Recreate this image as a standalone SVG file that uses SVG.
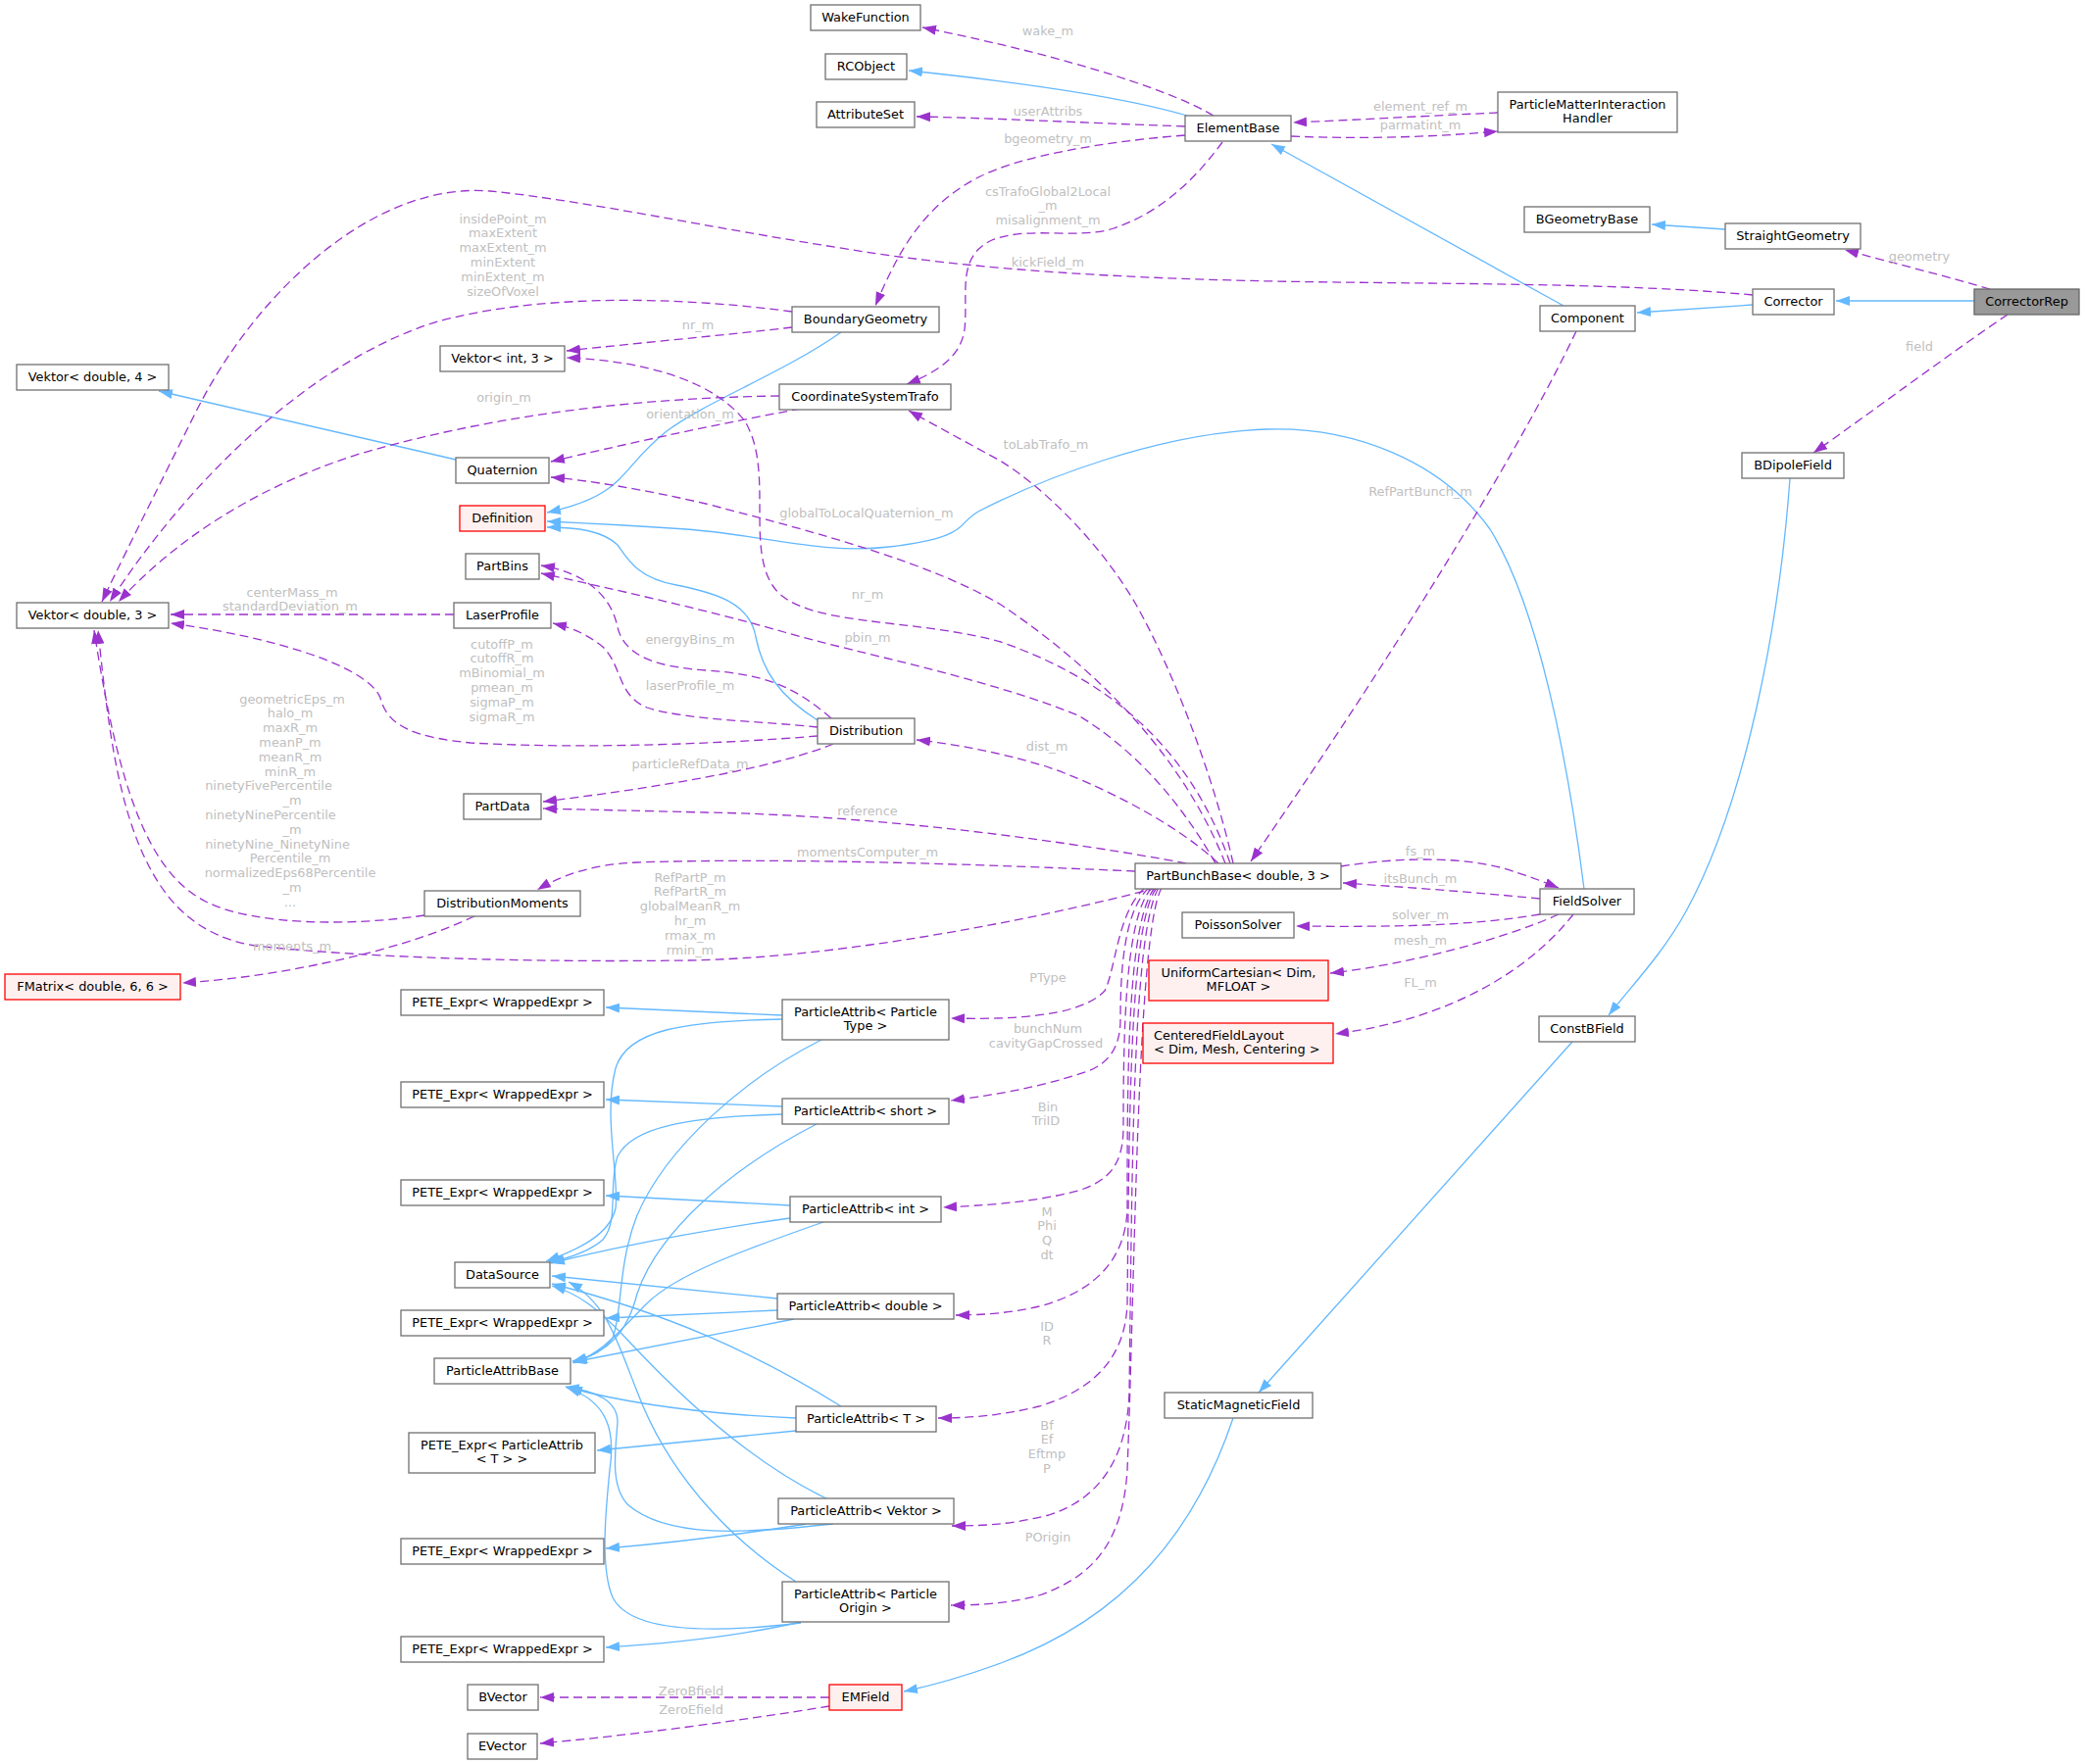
<svg xmlns="http://www.w3.org/2000/svg" width="2127" height="1800" viewBox="0 0 2127 1800">
<defs>
<style>
.n rect{fill:#ffffff;stroke:#707070;stroke-width:1.3}
.r rect{fill:#fff0f0;stroke:#ff0000;stroke-width:1.3}
.g rect{fill:#999999;stroke:#666666;stroke-width:1.3}
.n text,.r text,.g text{font-family:'DejaVu Sans',Verdana,sans-serif;font-size:12.9px;fill:#000000;text-anchor:middle}
.lb{font-family:'DejaVu Sans',Verdana,sans-serif;font-size:12.9px;fill:#c0c0c0;text-anchor:middle}
.u{fill:none;stroke:#9a32cd;stroke-width:1.3;stroke-dasharray:9,5;marker-end:url(#ap)}
.i{fill:none;stroke:#63b8ff;stroke-width:1.3;marker-end:url(#ab)}
</style>
<marker id="ap" viewBox="0 0 14 10" refX="14" refY="5" markerWidth="14" markerHeight="10" markerUnits="userSpaceOnUse" orient="auto"><path d="M0,0 L14,5 L0,10 z" fill="#9a32cd"/></marker>
<marker id="ab" viewBox="0 0 14 10" refX="14" refY="5" markerWidth="14" markerHeight="10" markerUnits="userSpaceOnUse" orient="auto"><path d="M0,0 L14,5 L0,10 z" fill="#63b8ff"/></marker>
</defs>
<rect width="2127" height="1800" fill="#ffffff"/>

<g id="edges">
<!-- inheritance -->
<path class="i" d="M1211,118 C1150,100 1050,85 927,72"/>
<path class="i" d="M1595,312 L1297,147"/>
<path class="i" d="M1788,311 L1670,319"/>
<path class="i" d="M2014,307 L1873,307"/>
<path class="i" d="M1760,234 L1685,229"/>
<path class="i" d="M858,339 C800,380 720,410 680,440 C630,480 640,505 558,523"/>
<path class="i" d="M465,469 L162,399"/>
<path class="i" d="M1616,907 C1600,780 1570,620 1520,540 C1470,470 1380,435 1292,438 C1180,442 1060,490 998,522 C975,535 990,548 907,558 C840,566 780,546 700,540 C640,536 600,534 558,532"/>
<path class="i" d="M834,735 C795,710 778,685 771,650 C765,615 730,605 690,597 C650,590 640,570 630,556 C615,542 590,538 558,538"/>
<path class="i" d="M1826,488 C1815,640 1780,820 1720,930 C1695,975 1665,1005 1641,1036"/>
<path class="i" d="M1604,1063 L1284,1421"/>
<path class="i" d="M1258,1447 C1220,1560 1150,1650 1021,1697 C980,1712 950,1720 922,1726"/>
<!-- ParticleAttrib inheritance -->
<path class="i" d="M798,1036 L618,1028"/>
<path class="i" d="M798,1040 C700,1042 640,1050 628,1090 C615,1140 632,1200 628,1233 C622,1260 590,1275 557,1287"/>
<path class="i" d="M838,1061 C760,1100 680,1170 650,1240 C630,1290 635,1340 625,1365 C615,1380 600,1385 584,1389"/>
<path class="i" d="M798,1129 L618,1122"/>
<path class="i" d="M798,1137 C700,1140 645,1150 630,1180 C620,1210 632,1245 615,1265 C600,1278 580,1284 560,1288"/>
<path class="i" d="M833,1147 C740,1195 670,1260 650,1320 C640,1360 620,1380 585,1390"/>
<path class="i" d="M806,1230 L618,1220"/>
<path class="i" d="M806,1243 C720,1255 630,1272 562,1289"/>
<path class="i" d="M840,1247 C760,1275 690,1300 660,1330 C630,1360 615,1380 585,1391"/>
<path class="i" d="M793,1337 L618,1345"/>
<path class="i" d="M793,1325 L563,1302"/>
<path class="i" d="M810,1346 L584,1390"/>
<path class="i" d="M812,1460 L609,1480"/>
<path class="i" d="M812,1447 C720,1443 640,1432 580,1416"/>
<path class="i" d="M858,1435 C770,1380 680,1340 563,1310"/>
<path class="i" d="M823,1555 C760,1565 700,1573 618,1580"/>
<path class="i" d="M845,1530 C760,1490 680,1410 640,1367 C610,1335 590,1320 563,1312"/>
<path class="i" d="M850,1555 C760,1565 680,1570 640,1535 C622,1515 628,1480 630,1451 C630,1430 610,1420 577,1415"/>
<path class="i" d="M817,1655 C760,1668 700,1676 618,1681"/>
<path class="i" d="M812,1614 C740,1568 680,1500 650,1420 C630,1370 620,1330 580,1308"/>
<path class="i" d="M817,1656 C700,1670 640,1660 625,1630 C612,1600 618,1540 622,1500 C628,1460 620,1430 578,1416"/>

<!-- usage -->
<path class="u" d="M2030,295 C1990,283 1930,268 1882,255"/>
<path class="u" d="M2048,321 C1990,360 1910,420 1850,462"/>
<path class="u" d="M1238,118 C1200,95 1100,60 941,28"/>
<path class="u" d="M1209,129 C1100,125 1000,120 935,119"/>
<path class="u" d="M1209,138 C1120,145 1040,160 1000,180 C940,210 915,260 893,312"/>
<path class="u" d="M1247,145 C1225,175 1190,215 1136,233 C1100,245 1050,230 1012,245 C975,262 988,300 984,336 C980,365 955,380 925,392"/>
<path class="u" d="M1317,139 C1390,142 1460,140 1528,134"/>
<path class="u" d="M1528,115 C1460,118 1390,122 1319,125"/>
<path class="u" d="M1788,301 C1650,288 1450,290 1300,287 C1150,284 1000,276 870,255 C720,232 600,205 500,195 C380,185 260,300 200,420 C150,520 120,580 104,614"/>
<path class="u" d="M808,318 C720,306 560,295 440,330 C320,370 200,480 112,614"/>
<path class="u" d="M808,334 C740,342 650,350 578,358"/>
<path class="u" d="M795,404 C650,406 505,423 367,463 C250,500 170,560 121,614"/>
<path class="u" d="M817,417 C720,435 630,455 562,471"/>
<path class="u" d="M848,733 C810,700 780,688 720,684 C660,680 636,665 630,640 C624,610 600,585 552,577"/>
<path class="u" d="M834,742 C780,736 700,735 660,722 C630,710 635,680 615,660 C600,648 585,641 564,636"/>
<path class="u" d="M834,751 C750,758 600,765 480,758 C420,752 395,740 388,712 C375,680 280,650 174,636"/>
<path class="u" d="M850,759 C800,780 700,800 554,818"/>
<path class="u" d="M463,627 L174,627"/>
<path class="u" d="M433,934 C360,945 260,945 210,920 C150,890 120,800 96,643"/>
<path class="u" d="M484,935 C430,960 370,975 320,985 C270,995 230,1000 186,1003"/>
<path class="u" d="M1180,906 C1050,940 850,978 700,980 C550,982 380,978 260,965 C200,955 170,920 150,880 C120,820 110,740 100,643"/>
<path class="u" d="M1158,889 C1000,882 800,875 650,880 C600,882 570,895 548,908"/>
<path class="u" d="M1210,881 C1100,860 900,832 720,829 C640,827 590,826 554,825"/>
<path class="u" d="M1243,881 C1200,840 1120,800 1067,782 C1020,768 980,760 935,755"/>
<path class="u" d="M1240,881 C1200,810 1150,760 1100,730 C1000,690 880,668 800,645 C720,622 620,600 552,585"/>
<path class="u" d="M1255,881 C1220,780 1150,700 1021,655 C930,630 820,640 790,600 C760,560 790,480 760,430 C730,390 660,368 578,365"/>
<path class="u" d="M1250,881 C1210,780 1130,690 1021,617 C950,575 840,545 720,514 C660,500 600,490 562,487"/>
<path class="u" d="M1258,881 C1240,800 1200,690 1159,617 C1120,550 1060,494 1020,470 C980,448 950,432 927,419"/>
<path class="u" d="M1608,338 C1540,480 1400,700 1276,879"/>
<path class="u" d="M1368,884 C1420,876 1480,873 1530,885 C1555,892 1575,900 1590,906"/>
<path class="u" d="M1571,917 C1500,910 1430,905 1370,901"/>
<path class="u" d="M1571,933 C1500,945 1420,946 1322,945"/>
<path class="u" d="M1590,933 C1530,960 1430,985 1357,993"/>
<path class="u" d="M1605,933 C1560,990 1480,1040 1362,1055"/>
<path class="u" d="M1168,906 C1140,930 1138,990 1127,1011 C1100,1040 1020,1040 970,1039"/>
<path class="u" d="M1172,906 C1145,930 1143,1000 1143,1040 C1143,1070 1130,1085 1110,1093 C1060,1110 1010,1118 970,1123"/>
<path class="u" d="M1175,906 C1148,935 1146,1050 1146,1150 C1146,1190 1130,1205 1100,1215 C1050,1228 1000,1230 962,1232"/>
<path class="u" d="M1178,906 C1150,940 1150,1100 1150,1230 C1150,1290 1110,1320 1060,1333 C1030,1340 1000,1342 975,1342"/>
<path class="u" d="M1180,906 C1152,940 1152,1150 1150,1330 C1148,1390 1110,1420 1060,1435 C1020,1445 985,1447 957,1447"/>
<path class="u" d="M1182,906 C1155,950 1155,1200 1152,1420 C1150,1490 1120,1530 1070,1546 C1030,1556 1000,1557 971,1557"/>
<path class="u" d="M1185,906 C1160,950 1158,1300 1150,1500 C1145,1580 1110,1610 1060,1628 C1030,1636 1000,1638 970,1638"/>
<path class="u" d="M846,1732 L551,1732"/>
<path class="u" d="M846,1741 C760,1755 650,1770 551,1779"/>

<!-- labels -->
<text class="lb" x="1958" y="265.5">geometry</text>
<text class="lb" x="1958" y="357.5">field</text>
<text class="lb" x="1069" y="35.5">wake_m</text>
<text class="lb" x="1069" y="117.5">userAttribs</text>
<text class="lb" x="1069" y="145.5">bgeometry_m</text>
<text class="lb" x="1069" y="199.5">csTrafoGlobal2Local</text>
<text class="lb" x="1069" y="214.3">_m</text>
<text class="lb" x="1069" y="229">misalignment_m</text>
<text class="lb" x="1069" y="271.5">kickField_m</text>
<text class="lb" x="1449" y="112.5">element_ref_m</text>
<text class="lb" x="1449" y="131.5">parmatint_m</text>
<text class="lb" x="513" y="227.5">insidePoint_m</text>
<text class="lb" x="513" y="242.3">maxExtent</text>
<text class="lb" x="513" y="257.1">maxExtent_m</text>
<text class="lb" x="513" y="271.9">minExtent</text>
<text class="lb" x="513" y="286.7">minExtent_m</text>
<text class="lb" x="513" y="301.5">sizeOfVoxel</text>
<text class="lb" x="712" y="335.5">nr_m</text>
<text class="lb" x="514" y="409.5">origin_m</text>
<text class="lb" x="704" y="426.5">orientation_m</text>
<text class="lb" x="1067" y="457.5">toLabTrafo_m</text>
<text class="lb" x="1449" y="505.5">RefPartBunch_m</text>
<text class="lb" x="884" y="527.5">globalToLocalQuaternion_m</text>
<text class="lb" x="885" y="610.5">nr_m</text>
<text class="lb" x="298" y="608.5">centerMass_m</text>
<text class="lb" x="296" y="623.3">standardDeviation_m</text>
<text class="lb" x="704" y="656.5">energyBins_m</text>
<text class="lb" x="885" y="654.5">pbin_m</text>
<text class="lb" x="512" y="661.5">cutoffP_m</text>
<text class="lb" x="512" y="676.3">cutoffR_m</text>
<text class="lb" x="512" y="691.1">mBinomial_m</text>
<text class="lb" x="512" y="705.9">pmean_m</text>
<text class="lb" x="512" y="720.7">sigmaP_m</text>
<text class="lb" x="512" y="735.5">sigmaR_m</text>
<text class="lb" x="704" y="703.5">laserProfile_m</text>
<text class="lb" x="1068" y="765.5">dist_m</text>
<text class="lb" x="704" y="783.5">particleRefData_m</text>
<text class="lb" x="298" y="717.5">geometricEps_m</text>
<text class="lb" x="296" y="732.3">halo_m</text>
<text class="lb" x="296" y="747.1">maxR_m</text>
<text class="lb" x="296" y="761.9">meanP_m</text>
<text class="lb" x="296" y="776.7">meanR_m</text>
<text class="lb" x="296" y="791.5">minR_m</text>
<text class="lb" x="274" y="806.3">ninetyFivePercentile</text>
<text class="lb" x="298" y="821.1">_m</text>
<text class="lb" x="276" y="835.9">ninetyNinePercentile</text>
<text class="lb" x="298" y="850.7">_m</text>
<text class="lb" x="283" y="865.5">ninetyNine_NinetyNine</text>
<text class="lb" x="296" y="880.3">Percentile_m</text>
<text class="lb" x="296" y="895.1">normalizedEps68Percentile</text>
<text class="lb" x="298" y="909.9">_m</text>
<text class="lb" x="296" y="924.7">...</text>
<text class="lb" x="885" y="831.5">reference</text>
<text class="lb" x="1449" y="872.5">fs_m</text>
<text class="lb" x="885" y="873.5">momentsComputer_m</text>
<text class="lb" x="1449" y="900.5">itsBunch_m</text>
<text class="lb" x="704" y="899.5">RefPartP_m</text>
<text class="lb" x="704" y="914.3">RefPartR_m</text>
<text class="lb" x="704" y="929.1">globalMeanR_m</text>
<text class="lb" x="704" y="943.9">hr_m</text>
<text class="lb" x="704" y="958.7">rmax_m</text>
<text class="lb" x="704" y="973.5">rmin_m</text>
<text class="lb" x="1449" y="937.5">solver_m</text>
<text class="lb" x="1449" y="963.5">mesh_m</text>
<text class="lb" x="298" y="969.5">moments_m</text>
<text class="lb" x="1069" y="1001.5">PType</text>
<text class="lb" x="1449" y="1006.5">FL_m</text>
<text class="lb" x="1069" y="1054">bunchNum</text>
<text class="lb" x="1067" y="1068.8">cavityGapCrossed</text>
<text class="lb" x="1069" y="1133.5">Bin</text>
<text class="lb" x="1067" y="1148.3">TriID</text>
<text class="lb" x="1068" y="1240.5">M</text>
<text class="lb" x="1068" y="1255.3">Phi</text>
<text class="lb" x="1068" y="1270.1">Q</text>
<text class="lb" x="1068" y="1284.9">dt</text>
<text class="lb" x="1068" y="1357.5">ID</text>
<text class="lb" x="1068" y="1372.3">R</text>
<text class="lb" x="1068" y="1458.5">Bf</text>
<text class="lb" x="1068" y="1473.3">Ef</text>
<text class="lb" x="1068" y="1488.1">Eftmp</text>
<text class="lb" x="1068" y="1502.9">P</text>
<text class="lb" x="1069" y="1572.5">POrigin</text>
<text class="lb" x="705" y="1729.5">ZeroBfield</text>
<text class="lb" x="705" y="1749">ZeroEfield</text>
</g>

<g id="WakeFunction" class="n"><rect x="827" y="5" width="112" height="26"/><text x="883" y="22">WakeFunction</text></g>
<g id="RCObject" class="n"><rect x="842" y="55" width="83" height="26"/><text x="883.5" y="72">RCObject</text></g>
<g id="AttributeSet" class="n"><rect x="833" y="104" width="100" height="26"/><text x="883" y="121">AttributeSet</text></g>
<g id="ElementBase" class="n"><rect x="1209" y="118" width="108" height="26"/><text x="1263" y="135">ElementBase</text></g>
<g id="ParticleMatterInteractionHandler" class="n"><rect x="1528" y="94" width="183" height="41"/><text x="1619.5" y="110.5">ParticleMatterInteraction</text><text x="1619.5" y="125">Handler</text></g>
<g id="BGeometryBase" class="n"><rect x="1555" y="211" width="128" height="26"/><text x="1619" y="228">BGeometryBase</text></g>
<g id="StraightGeometry" class="n"><rect x="1760" y="228" width="138" height="26"/><text x="1829" y="245">StraightGeometry</text></g>
<g id="Corrector" class="n"><rect x="1788" y="295" width="83" height="26"/><text x="1829.5" y="312">Corrector</text></g>
<g id="CorrectorRep" class="g"><rect x="2014" y="295" width="107" height="26"/><text x="2067.5" y="312">CorrectorRep</text></g>
<g id="Component" class="n"><rect x="1571" y="312" width="97" height="26"/><text x="1619.5" y="329">Component</text></g>
<g id="BoundaryGeometry" class="n"><rect x="808" y="313" width="150" height="26"/><text x="883" y="330">BoundaryGeometry</text></g>
<g id="VektorInt3" class="n"><rect x="449" y="353" width="127" height="26"/><text x="512.5" y="370">Vektor&lt; int, 3 &gt;</text></g>
<g id="VektorDouble4" class="n"><rect x="17" y="372" width="155" height="26"/><text x="94.5" y="389">Vektor&lt; double, 4 &gt;</text></g>
<g id="CoordinateSystemTrafo" class="n"><rect x="795" y="392" width="175" height="26"/><text x="882.5" y="409">CoordinateSystemTrafo</text></g>
<g id="BDipoleField" class="n"><rect x="1777" y="462" width="104" height="26"/><text x="1829" y="479">BDipoleField</text></g>
<g id="Quaternion" class="n"><rect x="465" y="467" width="95" height="26"/><text x="512.5" y="484">Quaternion</text></g>
<g id="Definition" class="r"><rect x="469" y="516" width="87" height="26"/><text x="512.5" y="533">Definition</text></g>
<g id="PartBins" class="n"><rect x="475" y="565" width="75" height="26"/><text x="512.5" y="582">PartBins</text></g>
<g id="VektorDouble3" class="n"><rect x="17" y="615" width="155" height="26"/><text x="94.5" y="632">Vektor&lt; double, 3 &gt;</text></g>
<g id="LaserProfile" class="n"><rect x="463" y="615" width="99" height="26"/><text x="512.5" y="632">LaserProfile</text></g>
<g id="Distribution" class="n"><rect x="834" y="733" width="99" height="26"/><text x="883.5" y="750">Distribution</text></g>
<g id="PartData" class="n"><rect x="473" y="810" width="79" height="26"/><text x="512.5" y="827">PartData</text></g>
<g id="PartBunchBase" class="n"><rect x="1158" y="881" width="210" height="26"/><text x="1263" y="898">PartBunchBase&lt; double, 3 &gt;</text></g>
<g id="FieldSolver" class="n"><rect x="1571" y="907" width="96" height="26"/><text x="1619" y="924">FieldSolver</text></g>
<g id="DistributionMoments" class="n"><rect x="433" y="909" width="159" height="26"/><text x="512.5" y="926">DistributionMoments</text></g>
<g id="PoissonSolver" class="n"><rect x="1206" y="931" width="114" height="26"/><text x="1263" y="948">PoissonSolver</text></g>
<g id="UniformCartesian" class="r"><rect x="1172" y="980" width="183" height="41"/><text x="1263.5" y="996.5">UniformCartesian&lt; Dim,</text><text x="1263.5" y="1011">MFLOAT &gt;</text></g>
<g id="FMatrix" class="r"><rect x="5" y="994" width="179" height="26"/><text x="94.5" y="1011">FMatrix&lt; double, 6, 6 &gt;</text></g>
<g id="PETE1" class="n"><rect x="409" y="1010" width="207" height="26"/><text x="512.5" y="1027">PETE_Expr&lt; WrappedExpr &gt;</text></g>
<g id="PAParticleType" class="n"><rect x="798" y="1020" width="170" height="41"/><text x="883" y="1036.5">ParticleAttrib&lt; Particle</text><text x="883" y="1051">Type &gt;</text></g>
<g id="ConstBField" class="n"><rect x="1570" y="1037" width="98" height="26"/><text x="1619" y="1054">ConstBField</text></g>
<g id="CenteredFieldLayout" class="r"><rect x="1166" y="1044" width="194" height="41"/><text x="1177" y="1060.5" style="text-anchor:start">CenteredFieldLayout</text><text x="1177" y="1075" style="text-anchor:start">&lt; Dim, Mesh, Centering &gt;</text></g>
<g id="PETE2" class="n"><rect x="409" y="1104" width="207" height="26"/><text x="512.5" y="1121">PETE_Expr&lt; WrappedExpr &gt;</text></g>
<g id="PAShort" class="n"><rect x="798" y="1121" width="170" height="26"/><text x="883" y="1138">ParticleAttrib&lt; short &gt;</text></g>
<g id="PETE3" class="n"><rect x="409" y="1204" width="207" height="26"/><text x="512.5" y="1221">PETE_Expr&lt; WrappedExpr &gt;</text></g>
<g id="PAInt" class="n"><rect x="806" y="1221" width="154" height="26"/><text x="883" y="1238">ParticleAttrib&lt; int &gt;</text></g>
<g id="DataSource" class="n"><rect x="464" y="1288" width="97" height="26"/><text x="512.5" y="1305">DataSource</text></g>
<g id="PADouble" class="n"><rect x="793" y="1320" width="180" height="26"/><text x="883" y="1337">ParticleAttrib&lt; double &gt;</text></g>
<g id="PETE4" class="n"><rect x="409" y="1337" width="207" height="26"/><text x="512.5" y="1354">PETE_Expr&lt; WrappedExpr &gt;</text></g>
<g id="ParticleAttribBase" class="n"><rect x="443" y="1386" width="139" height="26"/><text x="512.5" y="1403">ParticleAttribBase</text></g>
<g id="StaticMagneticField" class="n"><rect x="1188" y="1421" width="151" height="26"/><text x="1263.5" y="1438">StaticMagneticField</text></g>
<g id="PAT" class="n"><rect x="812" y="1435" width="143" height="26"/><text x="883.5" y="1452">ParticleAttrib&lt; T &gt;</text></g>
<g id="PETEPAT" class="n"><rect x="417" y="1462" width="190" height="41"/><text x="512" y="1478.5">PETE_Expr&lt; ParticleAttrib</text><text x="512" y="1493">&lt; T &gt; &gt;</text></g>
<g id="PAVektor" class="n"><rect x="794" y="1529" width="179" height="26"/><text x="883.5" y="1546">ParticleAttrib&lt; Vektor &gt;</text></g>
<g id="PETE5" class="n"><rect x="409" y="1570" width="207" height="26"/><text x="512.5" y="1587">PETE_Expr&lt; WrappedExpr &gt;</text></g>
<g id="PAParticleOrigin" class="n"><rect x="798" y="1614" width="170" height="41"/><text x="883" y="1630.5">ParticleAttrib&lt; Particle</text><text x="883" y="1645">Origin &gt;</text></g>
<g id="PETE6" class="n"><rect x="409" y="1670" width="207" height="26"/><text x="512.5" y="1687">PETE_Expr&lt; WrappedExpr &gt;</text></g>
<g id="BVector" class="n"><rect x="477" y="1719" width="72" height="26"/><text x="513" y="1736">BVector</text></g>
<g id="EMField" class="r"><rect x="846" y="1719" width="74" height="26"/><text x="883" y="1736">EMField</text></g>
<g id="EVector" class="n"><rect x="477" y="1769" width="71" height="26"/><text x="512.5" y="1786">EVector</text></g>
</svg>
